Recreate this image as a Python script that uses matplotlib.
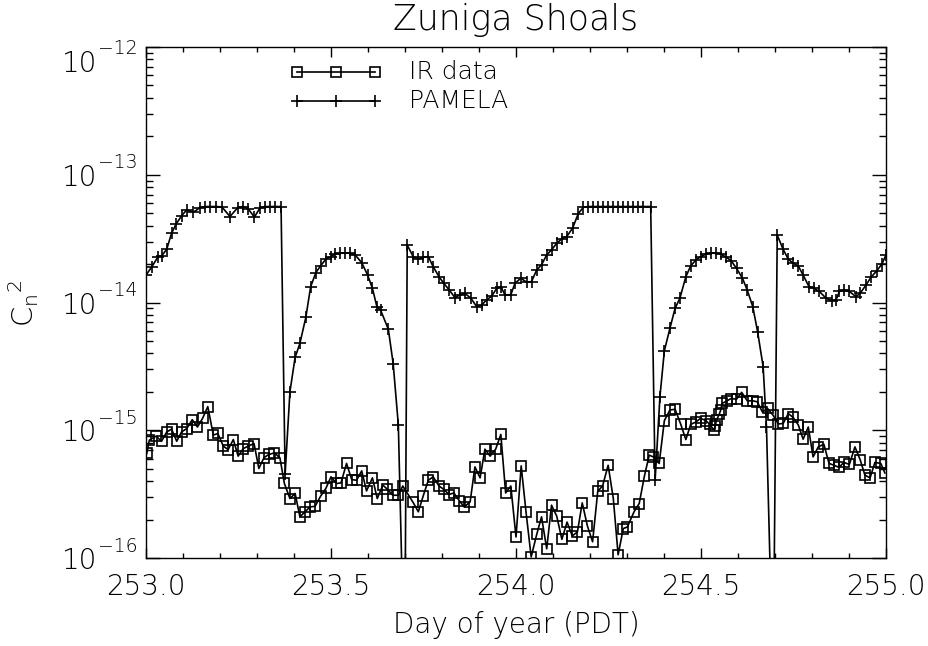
import matplotlib
matplotlib.use('Agg')
import matplotlib.pyplot as plt
from matplotlib import font_manager
import matplotlib.transforms as mtransforms
from matplotlib.ticker import FixedLocator, MultipleLocator, FormatStrFormatter, NullFormatter
from matplotlib.lines import Line2D

title = "Zuniga Shoals"
x_label = "Day of year (PDT)"
y_label = r"$\mathrm{C_n}^{\mathrm{2}}$"
legend_labels = ["IR data", "PAMELA"]
y_decades = [-16, -15, -14, -13, -12]

ir_day = [253.002, 253.009, 253.027, 253.042, 253.056, 253.069, 253.083, 253.096, 253.110, 253.125,
          253.139, 253.153, 253.167, 253.182, 253.194, 253.209, 253.222, 253.236, 253.249, 253.263,
          253.276, 253.292, 253.305, 253.319, 253.332, 253.347, 253.362, 253.374, 253.389, 253.403,
          253.416, 253.430, 253.443, 253.457, 253.472, 253.486, 253.500, 253.515, 253.527, 253.542,
          253.556, 253.569, 253.583, 253.596, 253.612, 253.625, 253.640, 253.652, 253.667, 253.682,
          253.694, 253.722, 253.736, 253.749, 253.763, 253.776, 253.792, 253.805, 253.819, 253.832,
          253.847, 253.860, 253.876, 253.889, 253.903, 253.916, 253.930, 253.945, 253.959, 253.972,
          253.986, 254.000, 254.014, 254.027, 254.041, 254.056, 254.069, 254.083, 254.096, 254.110,
          254.124, 254.138, 254.152, 254.166, 254.179, 254.193, 254.207, 254.221, 254.234, 254.249,
          254.263, 254.276, 254.290, 254.301, 254.319, 254.333, 254.347, 254.360, 254.371, 254.387,
          254.401, 254.416, 254.430, 254.445, 254.459, 254.472, 254.486, 254.499, 254.513, 254.524,
          254.535, 254.538, 254.542, 254.549, 254.553, 254.557, 254.569, 254.581, 254.596, 254.610,
          254.625, 254.640, 254.652, 254.666, 254.680, 254.695, 254.709, 254.722, 254.736, 254.749,
          254.763, 254.776, 254.790, 254.803, 254.817, 254.832, 254.846, 254.859, 254.873, 254.886,
          254.901, 254.916, 254.930, 254.943, 254.957, 254.970, 254.986, 254.997]
ir_cn2 = [6.58e-16, 8.36e-16, 8.99e-16, 8.20e-16, 9.70e-16, 1.02e-15, 8.20e-16, 9.70e-16, 1.03e-15, 1.21e-15,
          1.06e-15, 1.24e-15, 1.53e-15, 9.16e-16, 9.44e-16, 7.50e-16, 7.06e-16, 8.45e-16, 6.27e-16, 7.19e-16,
          7.50e-16, 7.87e-16, 5.02e-16, 6.11e-16, 6.46e-16, 6.65e-16, 6.08e-16, 3.83e-16, 2.92e-16, 3.20e-16,
          2.10e-16, 2.30e-16, 2.51e-16, 2.54e-16, 3.05e-16, 3.50e-16, 4.32e-16, 3.83e-16, 3.87e-16, 5.50e-16,
          4.11e-16, 4.06e-16, 4.81e-16, 3.35e-16, 4.24e-16, 2.92e-16, 3.72e-16, 3.46e-16, 3.10e-16, 3.10e-16,
          3.66e-16, 2.72e-16, 2.30e-16, 3.05e-16, 4.06e-16, 4.32e-16, 3.66e-16, 3.44e-16, 3.14e-16, 3.23e-16,
          2.80e-16, 2.51e-16, 2.75e-16, 5.16e-16, 4.24e-16, 7.11e-16, 6.27e-16, 7.11e-16, 9.27e-16, 3.23e-16,
          3.66e-16, 1.46e-16, 5.26e-16, 2.30e-16, 1.02e-16, 1.53e-16, 2.10e-16, 1.18e-16, 2.59e-16, 2.13e-16,
          1.40e-16, 1.91e-16, 1.49e-16, 1.60e-16, 2.70e-16, 1.78e-16, 1.34e-16, 3.33e-16, 3.66e-16, 5.32e-16,
          2.92e-16, 1.06e-16, 1.70e-16, 1.75e-16, 2.30e-16, 2.67e-16, 4.37e-16, 6.38e-16, 6.19e-16, 5.50e-16,
          1.19e-15, 1.44e-15, 1.46e-15, 1.12e-15, 8.45e-16, 1.11e-15, 1.16e-15, 1.24e-15, 1.19e-15, 1.11e-15,
          1.00e-15, 1.07e-15, 1.20e-15, 1.33e-15, 1.43e-15, 1.62e-15, 1.69e-15, 1.77e-15, 1.75e-15, 1.98e-15,
          1.70e-15, 1.70e-15, 1.67e-15, 1.39e-15, 1.48e-15, 1.31e-15, 1.12e-15, 1.13e-15, 1.35e-15, 1.26e-15,
          1.10e-15, 8.51e-16, 1.06e-15, 6.19e-16, 7.41e-16, 7.78e-16, 5.50e-16, 5.33e-16, 5.12e-16, 5.60e-16,
          5.40e-16, 7.41e-16, 5.90e-16, 4.45e-16, 4.24e-16, 5.60e-16, 5.50e-16, 4.63e-16]

pam_day = [253.000, 253.015, 253.033, 253.042, 253.056, 253.069, 253.081, 253.096, 253.110, 253.128,
           253.146, 253.159, 253.174, 253.190, 253.205, 253.227, 253.248, 253.263, 253.276, 253.293,
           253.308, 253.322, 253.335, 253.349, 253.365, 253.376, 253.389, 253.403, 253.416, 253.432,
           253.445, 253.459, 253.472, 253.486, 253.499, 253.511, 253.524, 253.538, 253.551, 253.565,
           253.583, 253.599, 253.612, 253.624, 253.634, 253.655, 253.668, 253.682, 253.699, 253.706,
           253.722, 253.736, 253.749, 253.763, 253.776, 253.792, 253.805, 253.820, 253.835, 253.849,
           253.862, 253.878, 253.894, 253.907, 253.921, 253.934, 253.948, 253.959, 253.970, 253.986,
           253.997, 254.013, 254.029, 254.042, 254.056, 254.069, 254.083, 254.096, 254.110, 254.124,
           254.137, 254.153, 254.168, 254.182, 254.195, 254.208, 254.222, 254.235, 254.249, 254.262,
           254.276, 254.289, 254.303, 254.316, 254.330, 254.343, 254.364, 254.376, 254.389, 254.401,
           254.416, 254.430, 254.443, 254.459, 254.472, 254.486, 254.500, 254.514, 254.527, 254.541,
           254.553, 254.568, 254.581, 254.596, 254.612, 254.625, 254.640, 254.653, 254.668, 254.677,
           254.695, 254.706, 254.722, 254.736, 254.749, 254.763, 254.776, 254.792, 254.806, 254.820,
           254.838, 254.853, 254.865, 254.874, 254.886, 254.901, 254.919, 254.930, 254.946, 254.959,
           254.975, 254.989, 255.000]
pam_cn2 = [1.64e-14, 1.89e-14, 2.29e-14, 2.31e-14, 2.61e-14, 3.48e-14, 4.10e-14, 4.76e-14, 5.31e-14, 5.09e-14,
           5.53e-14, 5.64e-14, 5.64e-14, 5.64e-14, 5.60e-14, 4.71e-14, 5.53e-14, 5.64e-14, 5.41e-14, 4.66e-14,
           5.50e-14, 5.64e-14, 5.64e-14, 5.64e-14, 5.64e-14, 4.53e-16, 2.00e-15, 3.72e-15, 4.79e-15, 7.66e-15,
           1.33e-14, 1.71e-14, 1.94e-14, 2.18e-14, 2.29e-14, 2.39e-14, 2.43e-14, 2.45e-14, 2.43e-14, 2.36e-14,
           2.05e-14, 1.64e-14, 1.29e-14, 9.27e-15, 8.73e-15, 6.17e-15, 3.33e-15, 1.10e-15, 1.0e-17, 2.82e-14,
           2.29e-14, 2.19e-14, 2.26e-14, 2.29e-14, 1.91e-14, 1.59e-14, 1.41e-14, 1.25e-14, 1.09e-14, 1.15e-14,
           1.18e-14, 1.08e-14, 9.27e-15, 9.55e-15, 1.05e-14, 1.12e-14, 1.29e-14, 1.33e-14, 1.15e-14, 1.15e-14,
           1.41e-14, 1.55e-14, 1.44e-14, 1.46e-14, 1.80e-14, 1.97e-14, 2.36e-14, 2.58e-14, 2.91e-14, 3.15e-14,
           3.28e-14, 3.82e-14, 4.94e-14, 5.57e-14, 5.64e-14, 5.64e-14, 5.64e-14, 5.64e-14, 5.64e-14, 5.64e-14,
           5.64e-14, 5.64e-14, 5.64e-14, 5.64e-14, 5.64e-14, 5.64e-14, 5.64e-14, 4.07e-16, 1.83e-15, 4.19e-15,
           6.28e-15, 9.02e-15, 1.08e-14, 1.59e-14, 1.93e-14, 2.15e-14, 2.29e-14, 2.40e-14, 2.44e-14, 2.44e-14,
           2.40e-14, 2.26e-14, 2.13e-14, 1.85e-14, 1.55e-14, 1.25e-14, 9.27e-15, 5.90e-15, 3.14e-15, 1.06e-15,
           1.0e-17, 3.37e-14, 2.61e-14, 2.18e-14, 2.03e-14, 1.93e-14, 1.64e-14, 1.33e-14, 1.29e-14, 1.22e-14,
           1.08e-14, 1.03e-14, 1.05e-14, 1.22e-14, 1.25e-14, 1.22e-14, 1.11e-14, 1.18e-14, 1.37e-14, 1.57e-14,
           1.77e-14, 2.00e-14, 2.36e-14]

# pick a thin font, close to the stroke font of the original
def pick_light_font():
    for fam in ['DejaVu Sans', 'Lato', 'Open Sans', 'Roboto', 'Noto Sans', 'Inter']:
        for w in ['light', 'extra light']:
            try:
                fp = font_manager.FontProperties(family=fam, weight=w)
                path = font_manager.findfont(fp, fallback_to_default=False)
                entry = [f for f in font_manager.fontManager.ttflist if f.fname == path]
                if entry and entry[0].name == fam and isinstance(entry[0].weight, int) and entry[0].weight < 400:
                    return fam, w
                if entry and entry[0].name == fam and entry[0].weight in ('light', 'extra light', 'ultralight', 'thin'):
                    return fam, w
            except Exception:
                pass
    return 'DejaVu Sans', 'normal'

FAM, WGT = pick_light_font()
plt.rcParams['font.family'] = [FAM, 'DejaVu Sans']
plt.rcParams['font.weight'] = WGT
plt.rcParams['axes.titleweight'] = WGT
plt.rcParams['axes.labelweight'] = WGT
plt.rcParams['mathtext.fontset'] = 'custom'
plt.rcParams['mathtext.rm'] = f'{FAM}:{WGT}'
plt.rcParams['mathtext.it'] = f'{FAM}:{WGT}'
plt.rcParams['axes.unicode_minus'] = True

W, H = 929, 646
fig = plt.figure(figsize=(W / 100, H / 100), dpi=100)
ax = fig.add_axes([146 / W, 1 - 558 / H, 740 / W, 511 / H])
ax.set_yscale('log')
ax.set_xlim(253.0, 255.0)
ax.set_ylim(1e-16, 1e-12)

def fx(px):
    return (px - 146) / 740
def fy(py):
    return (558 - py) / 511

line_kw = dict(color='black', lw=1.2)
ax.plot(ir_day, ir_cn2, marker='s', ms=7, mfc='none', mec='black', mew=1.2, **line_kw)
ax.plot(pam_day, pam_cn2, marker='+', ms=8, mec='black', mew=1.2, **line_kw)

ax.xaxis.set_major_locator(MultipleLocator(0.5))
ax.xaxis.set_minor_locator(MultipleLocator(0.1))
ax.xaxis.set_major_formatter(FormatStrFormatter('%.1f'))
ax.yaxis.set_major_locator(FixedLocator([10.0 ** d for d in y_decades]))
ax.yaxis.set_major_formatter(NullFormatter())
minor = [m * 10.0 ** d for d in y_decades[:-1] for m in range(2, 10)]
ax.yaxis.set_minor_locator(FixedLocator(minor))
ax.yaxis.set_minor_formatter(NullFormatter())

ax.tick_params(which='both', direction='in', top=True, right=True, width=1.0, color='black')
ax.tick_params(axis='x', which='major', length=7.5, pad=11, labelsize=20)
ax.tick_params(axis='x', which='minor', length=3.8)
ax.tick_params(axis='y', which='major', length=10)
ax.tick_params(axis='y', which='minor', length=5)
for s in ax.spines.values():
    s.set_linewidth(1.0)

# y tick labels: "10" with a raised exponent (top one kept inside the frame height)
ytr = ax.get_yaxis_transform()
for d in y_decades:
    shift = -14 if d == y_decades[-1] else 0
    base_tr = mtransforms.offset_copy(ytr, fig=fig, x=0, y=-3 + shift, units='dots')
    sup_tr = mtransforms.offset_copy(ytr, fig=fig, x=0, y=12 + shift, units='dots')
    ax.text(fx(97), 10.0 ** d, '10', transform=base_tr, fontsize=20,
            ha='right', va='center', clip_on=False)
    ax.text(fx(98), 10.0 ** d, '\u2212%d' % abs(d), transform=sup_tr, fontsize=13.5,
            ha='left', va='center', clip_on=False)

ax.set_title(title, fontsize=25, pad=12)
ax.set_xlabel(x_label, fontsize=20, labelpad=7)
ax.set_ylabel(y_label, fontsize=21)
ax.yaxis.set_label_coords(fx(41), fy(303))

lx = [fx(296.7), fx(336.0), fx(375.0)]
for lab, py, mk, ms in [(legend_labels[0], 72.3, 's', 7), (legend_labels[1], 101.0, '+', 8)]:
    ax.add_line(Line2D(lx, [fy(py)] * 3, transform=ax.transAxes, color='black', lw=1.2,
                       marker=mk, ms=ms, mfc='none', mec='black', mew=1.2))
    ax.text(fx(409), fy(py), lab, transform=ax.transAxes, fontsize=18, va='center', ha='left')

fig.savefig('out.png', dpi=100)
